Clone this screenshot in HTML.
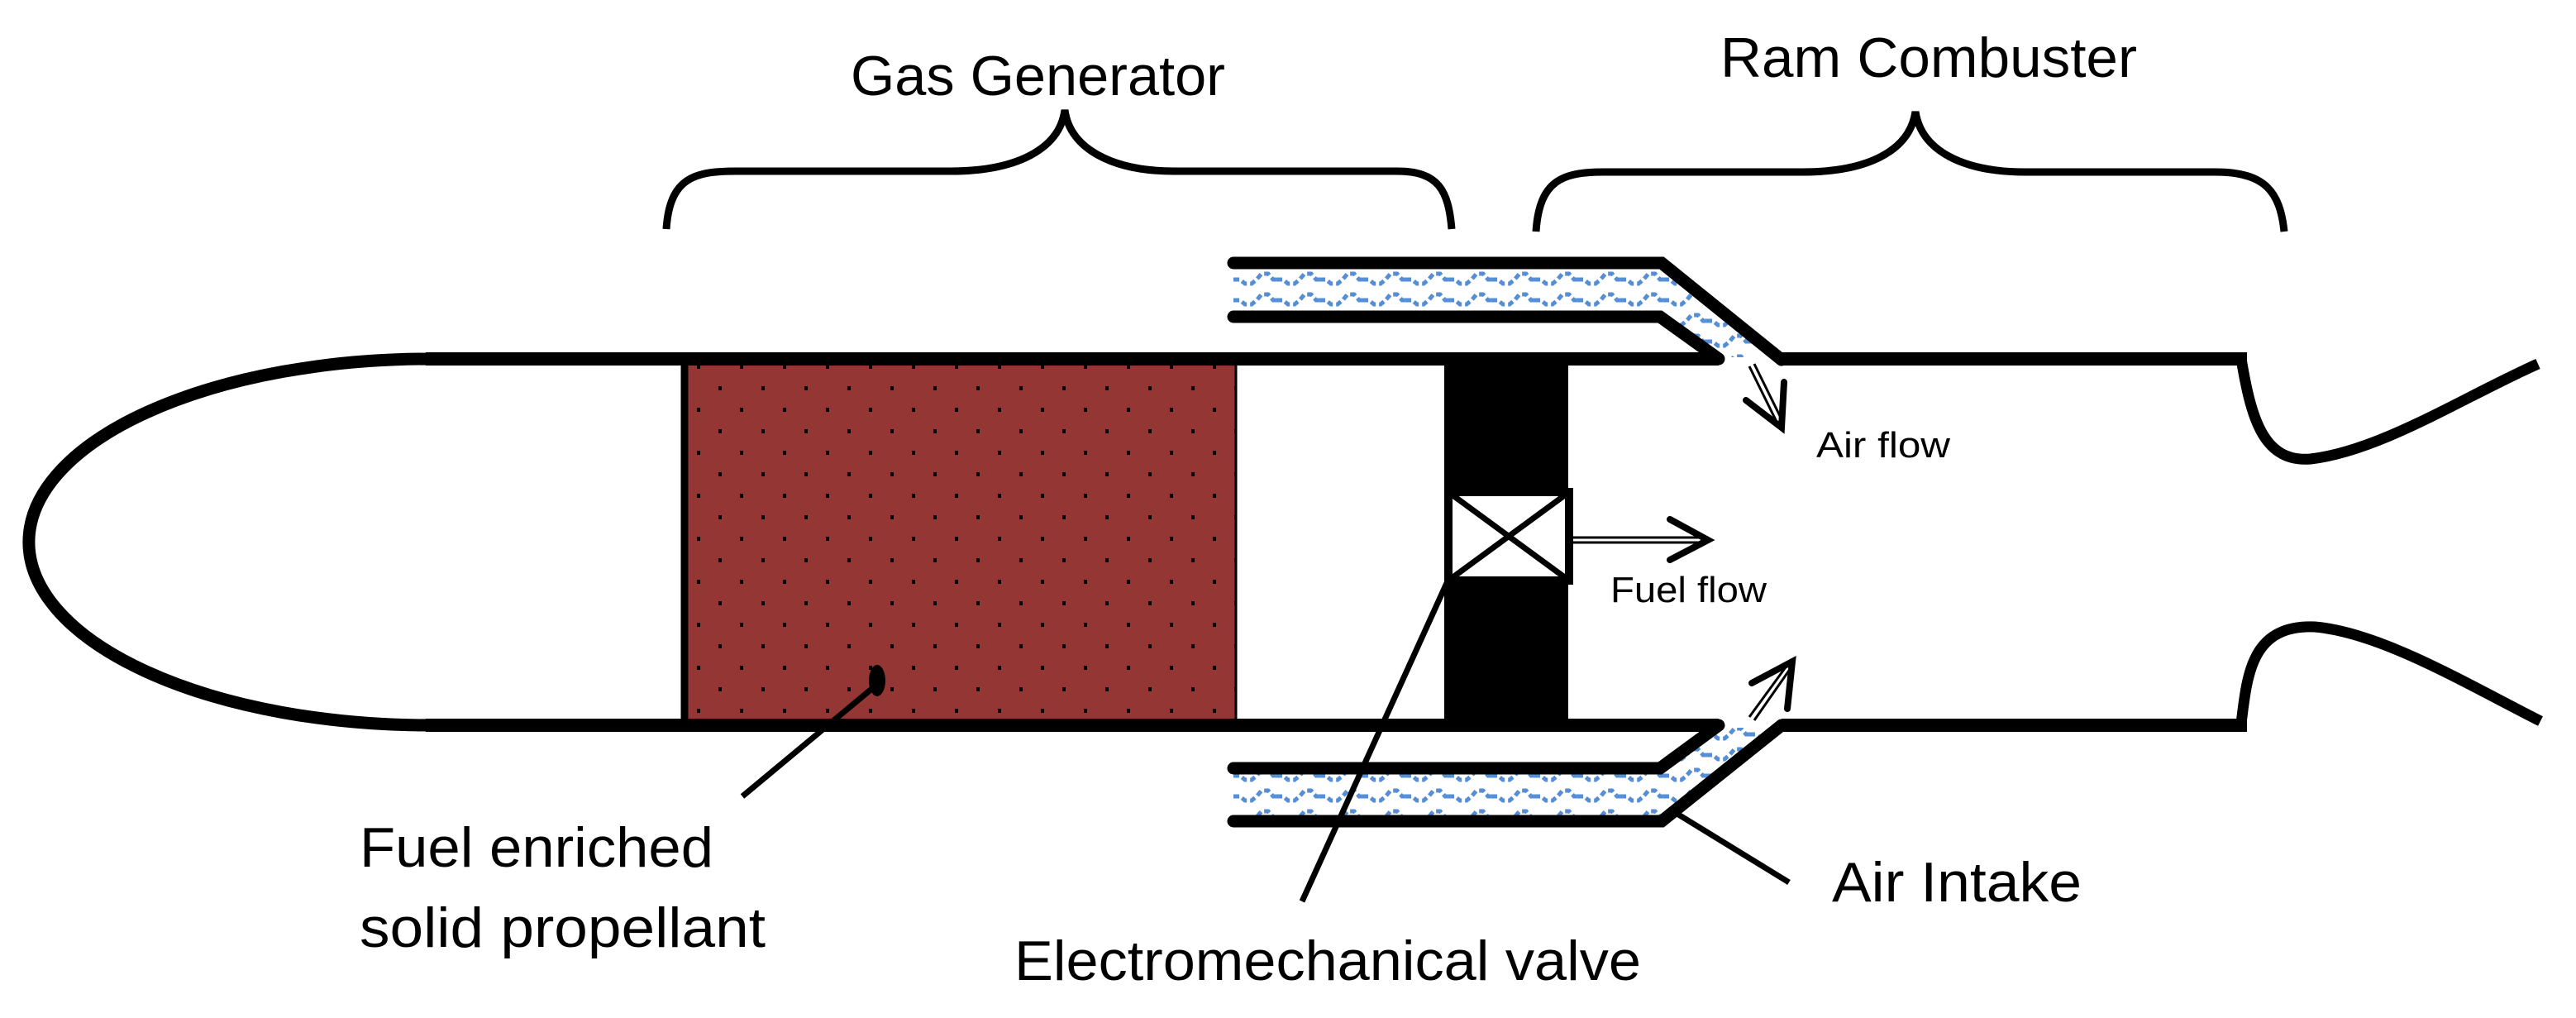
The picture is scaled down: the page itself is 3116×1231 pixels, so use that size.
<!DOCTYPE html>
<html><head><meta charset="utf-8"><style>
html,body{margin:0;padding:0;background:#fff;}
svg{display:block;}
text{font-family:"Liberation Sans",sans-serif;fill:#000;}
</style></head><body>
<svg width="3116" height="1231" viewBox="0 0 3116 1231" xmlns="http://www.w3.org/2000/svg">
<defs>
<pattern id="dots" x="824" y="434" width="52" height="52" patternUnits="userSpaceOnUse">
<rect width="52" height="52" fill="#943634"/>
<rect x="19" y="7" width="4" height="5" fill="#000"/>
<rect x="45" y="33" width="4" height="5" fill="#000"/>
</pattern>
<pattern id="wave" x="1492" y="325" width="52" height="25" patternUnits="userSpaceOnUse">
<path d="M0,13 L8,13 L14,18 L22,18 L28,13 L34,6 L42,6 L48,13 L52,13" fill="none" stroke="#558ed5" stroke-width="5" stroke-dasharray="7,4"/>
</pattern>
</defs>

<polygon points="1492,325 2010,325 2150,432 2085,432 2008,376 1492,376" fill="url(#wave)"/>
<polygon points="1492,936 2008,936 2085,880 2150,880 2010,986 1492,986" fill="url(#wave)"/>

<rect x="824" y="434" width="671" height="443" fill="url(#dots)"/>
<line x1="828" y1="434" x2="828" y2="877" stroke="#000" stroke-width="9"/>
<line x1="1495" y1="434" x2="1495" y2="877" stroke="#000" stroke-width="3"/>

<path d="M520,434 A484,221 0 0 0 520,877" fill="none" stroke="#000" stroke-width="15"/>
<line x1="515" y1="434" x2="2079" y2="434" stroke="#000" stroke-width="16"/>
<line x1="515" y1="877" x2="2079" y2="877" stroke="#000" stroke-width="16"/>
<line x1="2155" y1="434" x2="2718" y2="434" stroke="#000" stroke-width="16"/>
<line x1="2155" y1="877" x2="2718" y2="877" stroke="#000" stroke-width="16"/>

<path d="M2710,428 C2722,500 2735,560 2795,555 C2880,545 2980,480 3070,440" fill="none" stroke="#000" stroke-width="13"/>
<path d="M2710,883 C2718,820 2720,755 2800,758 C2880,765 2980,825 3073,872" fill="none" stroke="#000" stroke-width="13"/>

<path d="M1492,318 L2010,318 L2155,435" fill="none" stroke="#000" stroke-width="15" stroke-linecap="round"/>
<path d="M1492,383 L2008,383 L2079,434" fill="none" stroke="#000" stroke-width="15" stroke-linecap="round"/>
<path d="M1492,929 L2008,929 L2079,877" fill="none" stroke="#000" stroke-width="15" stroke-linecap="round"/>
<path d="M1492,993 L2010,993 L2155,877" fill="none" stroke="#000" stroke-width="15" stroke-linecap="round"/>

<rect x="1747" y="434" width="150" height="443" fill="#000"/>
<rect x="1752" y="595" width="146" height="107" fill="#fff" stroke="#000" stroke-width="10"/>
<line x1="1752" y1="595" x2="1898" y2="702" stroke="#000" stroke-width="7"/>
<line x1="1898" y1="595" x2="1752" y2="702" stroke="#000" stroke-width="7"/>

<line x1="1903" y1="650" x2="2060" y2="650" stroke="#000" stroke-width="3"/>
<line x1="1903" y1="656" x2="2060" y2="656" stroke="#000" stroke-width="3"/>
<polyline points="2020,628 2066,653 2020,677" fill="none" stroke="#000" stroke-width="8" stroke-linecap="round"/>
<text x="1948" y="728" font-size="44" textLength="189" lengthAdjust="spacingAndGlyphs">Fuel flow</text>

<line x1="2116" y1="443" x2="2150" y2="512" stroke="#000" stroke-width="3"/>
<line x1="2122" y1="440" x2="2156" y2="509" stroke="#000" stroke-width="3"/>
<polyline points="2112,484 2155,517 2158,462" fill="none" stroke="#000" stroke-width="8" stroke-linecap="round"/>
<line x1="2116" y1="867" x2="2162" y2="804" stroke="#000" stroke-width="3"/>
<line x1="2122" y1="871" x2="2166" y2="808" stroke="#000" stroke-width="3"/>
<polyline points="2119,826 2168,800 2162,857" fill="none" stroke="#000" stroke-width="8" stroke-linecap="round"/>
<text x="2197" y="553" font-size="44" textLength="162" lengthAdjust="spacingAndGlyphs">Air flow</text>

<ellipse cx="1061" cy="823" rx="10" ry="19" fill="#000"/>
<line x1="1058" y1="830" x2="898" y2="963" stroke="#000" stroke-width="7"/>
<line x1="1750" y1="705" x2="1575" y2="1090" stroke="#000" stroke-width="7"/>
<line x1="2027" y1="983" x2="2164" y2="1067" stroke="#000" stroke-width="7"/>

<path d="M806,277 C810,215 840,207 890,207 L1150,207 C1230,207 1282,180 1288,133 C1294,180 1346,207 1420,207 L1690,207 C1740,207 1752,230 1756,277" fill="none" stroke="#000" stroke-width="9"/>
<path d="M1858,280 C1862,218 1890,208 1940,208 L2180,208 C2260,208 2310,182 2317,135 C2324,182 2374,208 2450,208 L2680,208 C2740,208 2758,232 2763,280" fill="none" stroke="#000" stroke-width="9"/>

<text x="1029" y="115" font-size="68" textLength="453" lengthAdjust="spacingAndGlyphs">Gas Generator</text>
<text x="2081" y="93" font-size="68" textLength="504" lengthAdjust="spacingAndGlyphs">Ram Combuster</text>
<text x="435" y="1048" font-size="68" textLength="428" lengthAdjust="spacingAndGlyphs">Fuel enriched</text>
<text x="435" y="1145" font-size="68" textLength="491" lengthAdjust="spacingAndGlyphs">solid propellant</text>
<text x="1227" y="1185" font-size="68" textLength="758" lengthAdjust="spacingAndGlyphs">Electromechanical valve</text>
<text x="2216" y="1090" font-size="68" textLength="302" lengthAdjust="spacingAndGlyphs">Air Intake</text>
</svg>
</body></html>
